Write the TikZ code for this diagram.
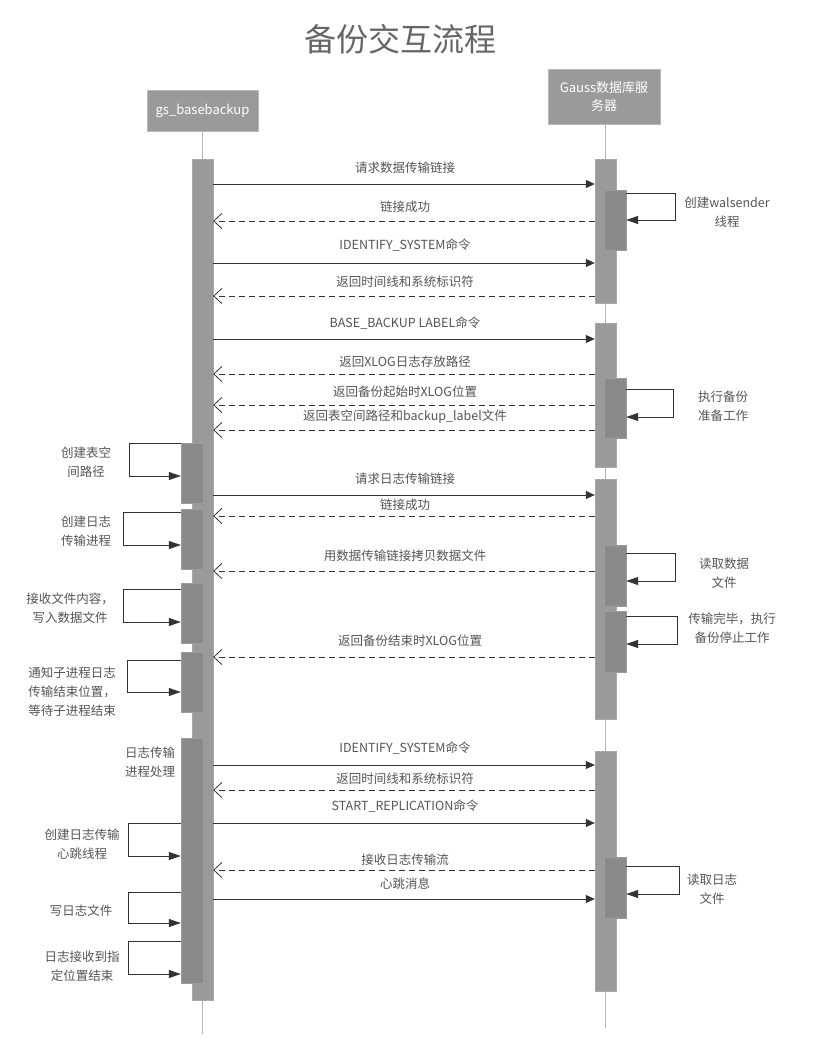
\documentclass[tikz,border=0pt]{standalone}
\usepackage{fontspec}
\setmainfont{Noto Sans CJK SC}
\usetikzlibrary{arrows.meta}
\definecolor{barc}{HTML}{9A9A9A}
\definecolor{subc}{HTML}{8A8A8A}
\definecolor{lifec}{HTML}{B4B4B4}
\definecolor{linec}{HTML}{333333}
\definecolor{txtc}{HTML}{555555}
\begin{document}
\begin{tikzpicture}[x=1pt,y=-1pt,
  hdr/.style={rectangle,fill=barc,draw=barc!70!white,text=white,inner sep=0pt,align=center,font=\fontsize{13}{18}\selectfont},
  mainbar/.style={rectangle,fill=barc,draw=barc!85!white,inner sep=0pt,minimum width=21pt},
  subbar/.style={rectangle,fill=subc,draw=subc!85!white,inner sep=0pt,minimum width=22pt},
  life/.style={draw=lifec,line width=1pt},
  msg/.style={draw=linec,line width=0.8pt,-{Triangle[length=9pt,width=8pt]}},
  ret/.style={draw=linec,line width=0.8pt,dash pattern=on 6pt off 4pt,-{Straight Barb[length=8pt,width=15pt]}},
  selfloop/.style={draw=linec,line width=0.8pt,-{Triangle[length=12pt,width=8pt]}},
  lbl/.style={text=txtc,inner sep=0pt,align=center,font=\fontsize{12.5}{19}\selectfont}
]
\useasboundingbox[fill=white] (0,0) rectangle (832,1054);

% title
\node[text=txtc!90!white,font=\fontsize{32}{36}\selectfont,inner sep=0pt] (title) at (400,39) {备份交互流程};

% headers
\node[hdr,minimum width=111pt,minimum height=41pt] (hA) at (202.5,110.5) {gs\_basebackup};
\node[hdr,minimum width=112pt,minimum height=55pt] (hB) at (604,96.5) {Gauss数据库服\\务器};

% lifelines
\coordinate (endA) at (202.5,1034);
\coordinate (endB) at (605.5,1028);
\draw[life] (hA.south) -- (endA);
\draw[life] (hB.south -| endB) -- (endB);

% main bars
\node[mainbar,minimum height=841pt] (Lmain) at (202.5,579.5) {};
\node[mainbar,minimum height=144pt] (R1) at (605.5,231) {};
\node[mainbar,minimum height=144pt] (R2) at (605.5,395) {};
\node[mainbar,minimum height=240pt] (R3) at (605.5,599) {};
\node[mainbar,minimum height=240pt] (R4) at (605.5,871) {};

% nested bars
\node[subbar,minimum height=60pt] (L1) at (192,473) {};
\node[subbar,minimum height=60pt] (L2) at (192,539) {};
\node[subbar,minimum height=60pt] (L3) at (192,613) {};
\node[subbar,minimum height=60pt] (L4) at (192,682) {};
\node[subbar,minimum height=245pt] (L5) at (192,860.5) {};
\node[subbar,minimum height=60pt] (N1) at (615,220) {};
\node[subbar,minimum height=60pt] (N2) at (615,408) {};
\node[subbar,minimum height=61pt] (N3) at (615,575.5) {};
\node[subbar,minimum height=61pt] (N4) at (615,641.5) {};
\node[subbar,minimum height=61pt] (N5) at (615,887.5) {};

% messages
\draw[msg] (Lmain.east |- 0,184) -- (R1.west |- 0,184);
\node[lbl] (m1) at (405,168) {请求数据传输链接};
\draw[ret] (R1.west |- 0,221) -- (Lmain.east |- 0,221);
\node[lbl] (m2) at (405,207) {链接成功};
\draw[msg] (Lmain.east |- 0,263) -- (R1.west |- 0,263);
\node[lbl] (m3) at (405,245) {IDENTIFY\_SYSTEM命令};
\draw[ret] (R1.west |- 0,296) -- (Lmain.east |- 0,296);
\node[lbl] (m4) at (405,282) {返回时间线和系统标识符};
\draw[msg] (Lmain.east |- 0,339) -- (R2.west |- 0,339);
\node[lbl] (m5) at (405,323) {BASE\_BACKUP LABEL命令};
\draw[ret] (R2.west |- 0,374) -- (Lmain.east |- 0,374);
\node[lbl] (m6) at (405,362) {返回XLOG日志存放路径};
\draw[ret] (R2.west |- 0,405) -- (Lmain.east |- 0,405);
\node[lbl] (m7) at (405,392) {返回备份起始时XLOG位置};
\draw[ret] (R2.west |- 0,430) -- (Lmain.east |- 0,430);
\node[lbl] (m8) at (405,417) {返回表空间路径和backup\_label文件};
\draw[msg] (Lmain.east |- 0,495) -- (R3.west |- 0,495);
\node[lbl] (m9) at (405,479) {请求日志传输链接};
\draw[ret] (R3.west |- 0,516) -- (Lmain.east |- 0,516);
\node[lbl] (m10) at (405,505) {链接成功};
\draw[ret] (R3.west |- 0,571) -- (Lmain.east |- 0,571);
\node[lbl] (m11) at (405,556) {用数据传输链接拷贝数据文件};
\draw[ret] (R3.west |- 0,657) -- (Lmain.east |- 0,657);
\node[lbl] (m12) at (410,641) {返回备份结束时XLOG位置};
\draw[msg] (Lmain.east |- 0,765) -- (R4.west |- 0,765);
\node[lbl] (m13) at (405,748) {IDENTIFY\_SYSTEM命令};
\draw[ret] (R4.west |- 0,790) -- (Lmain.east |- 0,790);
\node[lbl] (m14) at (405,779) {返回时间线和系统标识符};
\draw[msg] (Lmain.east |- 0,823) -- (R4.west |- 0,823);
\node[lbl] (m15) at (405,806) {START\_REPLICATION命令};
\draw[ret] (R4.west |- 0,870) -- (Lmain.east |- 0,870);
\node[lbl] (m16) at (405,860) {接收日志传输流};
\draw[msg] (Lmain.east |- 0,899) -- (R4.west |- 0,899);
\node[lbl] (m17) at (405,884) {心跳消息};

% right self loops
\draw[selfloop] (N1.east |- 0,193) -| (675,220) -- (N1.east |- 0,220);
\node[lbl] (t1) at (727,212) {创建walsender\\线程};
\draw[selfloop] (N2.east |- 0,389) -| (673,417) -- (N2.east |- 0,417);
\node[lbl] (t2) at (723,406) {执行备份\\准备工作};
\draw[selfloop] (N3.east |- 0,553) -| (675,581) -- (N3.east |- 0,581);
\node[lbl] (t3) at (724,573) {读取数据\\文件};
\draw[selfloop] (N4.east |- 0,616) -| (677,644) -- (N4.east |- 0,644);
\node[lbl] (t4) at (732,628) {传输完毕，执行\\备份停止工作};
\draw[selfloop] (N5.east |- 0,866) -| (679,894) -- (N5.east |- 0,894);
\node[lbl] (t5) at (712,889) {读取日志\\文件};

% left self loops
\draw[selfloop] (L1.west |- 0,443) -| (129,476) -- (L1.west |- 0,476);
\node[lbl] (s1) at (86,462) {创建表空\\间路径};
\draw[selfloop] (L2.west |- 0,512) -| (123,545) -- (L2.west |- 0,545);
\node[lbl] (s2) at (86,531) {创建日志\\传输进程};
\draw[selfloop] (L3.west |- 0,589) -| (123,622) -- (L3.west |- 0,622);
\node[lbl] (s3) at (70,608) {接收文件内容，\\写入数据文件};
\draw[selfloop] (L4.west |- 0,660) -| (127,692) -- (L4.west |- 0,692);
\node[lbl] (s4) at (72,692) {通知子进程日志\\传输结束位置，\\等待子进程结束};
\node[lbl] (s5) at (150,762) {日志传输\\进程处理};
\draw[selfloop] (L5.west |- 0,823) -| (128,856) -- (L5.west |- 0,856);
\node[lbl] (s6) at (82,844) {创建日志传输\\心跳线程};
\draw[selfloop] (L5.west |- 0,892) -| (128,923) -- (L5.west |- 0,923);
\node[lbl] (s7) at (81,911) {写日志文件};
\draw[selfloop] (L5.west |- 0,941) -| (128,974) -- (L5.west |- 0,974);
\node[lbl] (s8) at (82,966) {日志接收到指\\定位置结束};
\end{tikzpicture}
\end{document}
